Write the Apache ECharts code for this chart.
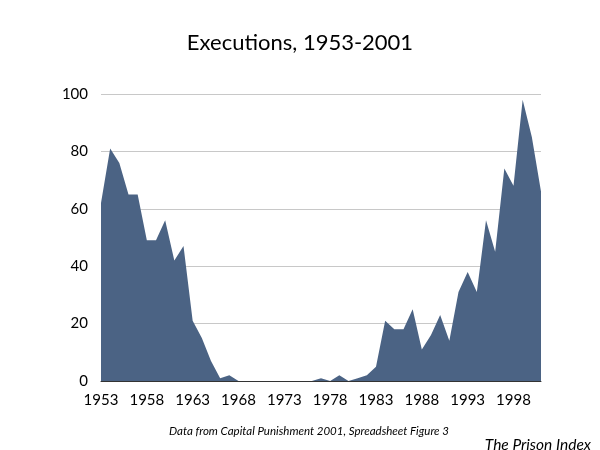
<!DOCTYPE html>
<html><head><meta charset="utf-8">
<script src="https://cdn.jsdelivr.net/npm/echarts@6/dist/echarts.min.js"></script>
<style>html,body{margin:0;padding:0;background:#fff}#c{width:600px;height:450px}</style>
</head><body><div id="c"></div>
<script>
const years = [];
for (let y = 1953; y <= 2001; y++) years.push(String(y));
const executions = [62,81,76,65,65,49,49,56,42,47,21,15,7,1,2,0,0,0,0,0,0,0,0,0,1,0,2,0,1,2,5,21,18,18,25,11,16,23,14,31,38,31,56,45,74,68,98,85,66];
const yTicks = [0,20,40,60,80,100];
const FONT = 'Lato, "Open Sans", sans-serif';
const chart = echarts.init(document.getElementById('c'));
chart.setOption({
  animation: false,
  backgroundColor: '#fff',
  title: [
    {text: 'Executions, 1953-2001', left: 'center', top: 27, textStyle: {fontFamily: FONT, fontSize: 22, fontWeight: 'normal', color: '#000'}},
    {text: 'Data from Capital Punishment 2001, Spreadsheet Figure 3', left: 304, textAlign: 'center', top: 420, textStyle: {fontFamily: FONT, fontSize: 11.5, fontStyle: 'italic', fontWeight: 'normal', color: '#000'}},
    {text: 'The Prison Index', right: 4, top: 432, textStyle: {fontFamily: FONT, fontSize: 15.5, fontStyle: 'italic', fontWeight: 'normal', color: '#000'}}
  ],
  grid: {left: 101, right: 59, top: 94, bottom: 69},
  xAxis: {
    type: 'category', data: years, boundaryGap: false,
    axisLine: {lineStyle: {color: '#333', width: 1}},
    axisTick: {show: false},
    axisLabel: {interval: 4, color: '#000', fontFamily: FONT, fontSize: 15, margin: 12}
  },
  yAxis: {
    type: 'value', min: 0, max: 100, interval: 20,
    axisLine: {show: false}, axisTick: {show: false},
    axisLabel: {color: '#000', fontFamily: FONT, fontSize: 15, margin: 13},
    splitLine: {lineStyle: {color: '#c8c8c8', width: 1}}
  },
  series: [{
    type: 'line', data: executions, symbol: 'none',
    lineStyle: {width: 0}, areaStyle: {color: '#4b6384', opacity: 1}
  }]
});
</script></body></html>
